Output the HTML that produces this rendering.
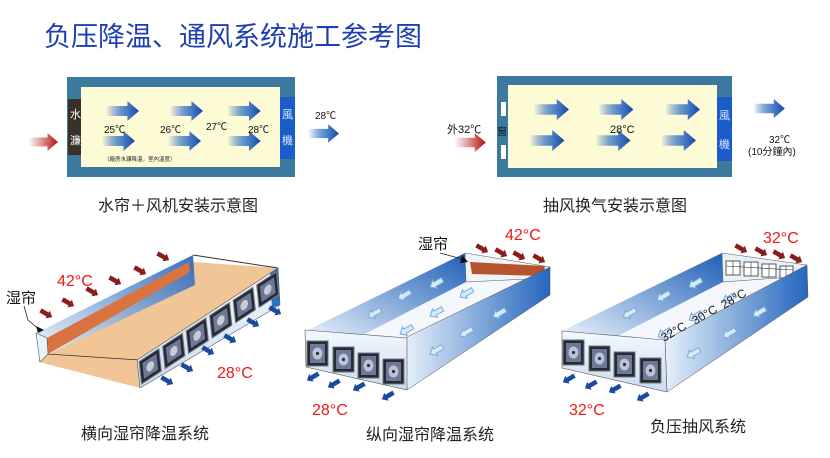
<!DOCTYPE html>
<html><head><meta charset="utf-8"><style>
html,body{margin:0;padding:0;background:#fff;}
svg{display:block;font-family:"Liberation Sans","Noto Sans CJK SC",sans-serif;}
</style></head><body>
<svg width="830" height="458" viewBox="0 0 830 458" xmlns="http://www.w3.org/2000/svg">
<defs>
<linearGradient id="gb" x1="0" x2="1" y1="0" y2="0"><stop offset="0" stop-color="#1f56b5" stop-opacity="0"/><stop offset="0.45" stop-color="#4a86cc" stop-opacity="0.85"/><stop offset="1" stop-color="#1446a8"/></linearGradient>
<linearGradient id="gr" x1="0" x2="1" y1="0" y2="0"><stop offset="0" stop-color="#c01818" stop-opacity="0"/><stop offset="1" stop-color="#b01010"/></linearGradient>
<symbol id="ab" viewBox="0 0 40 24"><path d="M0,6H26V0L40,12L26,24V18H0Z" fill="url(#gb)"/></symbol>
<symbol id="ar" viewBox="0 0 40 24"><path d="M0,6H26V0L40,12L26,24V18H0Z" fill="url(#gr)"/></symbol>
<symbol id="sr" viewBox="0 0 20 12" overflow="visible"><path d="M0,3H11V0L18,6L11,12V9H0Z" fill="#8b1c1c"/></symbol>
<symbol id="sb" viewBox="0 0 20 12" overflow="visible"><path d="M0,3H11V0L18,6L11,12V9H0Z" fill="#1a4aa0"/></symbol>
<symbol id="sl" viewBox="0 0 20 12" overflow="visible"><path d="M18,3H7V0L0,6L7,12V9H18Z" fill="#d6eaf8" stroke="#78a9d6" stroke-width="1.2"/></symbol>
<linearGradient id="wb" x1="0" x2="1" y1="1" y2="0"><stop offset="0" stop-color="#eef5fc"/><stop offset="1" stop-color="#1f5fb8"/></linearGradient>
<linearGradient id="wb2" x1="0" x2="1" y1="0" y2="0"><stop offset="0" stop-color="#e6f0fa"/><stop offset="1" stop-color="#2466bd"/></linearGradient>
<linearGradient id="ff" x1="0" x2="0" y1="0" y2="1"><stop offset="0" stop-color="#f4f8fd"/><stop offset="1" stop-color="#c8dcee"/></linearGradient>
<g id="fan"><rect x="0.08" y="0.1" width="0.84" height="0.8" fill="#262a36" stroke="#777" stroke-width="1" vector-effect="non-scaling-stroke"/><rect x="0.2" y="0.22" width="0.6" height="0.56" fill="#6d7894"/><circle cx="0.5" cy="0.5" r="0.16" fill="#c7ccd8"/></g>
<g id="fs"><rect x="0" y="0" width="21" height="25" fill="#262a36" stroke="#777" stroke-width="1"/><rect x="3" y="3" width="15" height="19" fill="#6d7894"/><ellipse cx="10.5" cy="12.5" rx="5" ry="6" fill="#b9c3da"/><circle cx="10.5" cy="12.5" r="1.6" fill="#333"/></g>
</defs>

<!-- Title -->
<text x="44" y="46" font-size="27" fill="#1f3fb0">负压降温、通风系统施工参考图</text>

<!-- Top-left diagram -->
<rect x="67" y="77" width="228" height="100" fill="#3b7a9e"/>
<rect x="81" y="87" width="199" height="80" fill="#fdfbd6"/>
<rect x="68" y="99" width="13" height="56" fill="#3a302a"/>
<text x="70" y="118" font-size="11" fill="#fff">水</text>
<text x="70" y="144" font-size="11" fill="#fff">濂</text>
<rect x="280" y="97" width="15" height="62" fill="#1a5cc8"/>
<text x="282" y="118" font-size="11" fill="#dde8ff">風</text>
<text x="282" y="144" font-size="11" fill="#dde8ff">機</text>
<use href="#ab" x="106" y="101" width="33" height="20"/>
<use href="#ab" x="170" y="101" width="33" height="20"/>
<use href="#ab" x="227" y="101" width="34" height="20"/>
<use href="#ab" x="102" y="131" width="33" height="20"/>
<use href="#ab" x="168" y="131" width="33" height="20"/>
<use href="#ab" x="227" y="131" width="34" height="20"/>
<g font-size="10" fill="#111"><text x="104" y="133">25℃</text><text x="160" y="133">26℃</text><text x="206" y="130">27℃</text><text x="248" y="133">28℃</text></g>
<text x="104" y="161" font-size="5.5" fill="#222">（廠房水濂降溫，室內溫度）</text>
<use href="#ar" x="26" y="133" width="34" height="18"/>
<use href="#ab" x="308" y="124" width="31" height="19"/>
<text x="315" y="119" font-size="10" fill="#111">28℃</text>
<text x="178" y="211" font-size="16" fill="#222" text-anchor="middle">水帘＋风机安装示意图</text>

<!-- Top-right diagram -->
<rect x="497" y="76" width="235" height="101" fill="#3b7a9e"/>
<rect x="508" y="85" width="209" height="83" fill="#fdfbd6"/>
<rect x="501" y="102" width="5" height="14" fill="#fff"/>
<rect x="501" y="145" width="5" height="14" fill="#fff"/>
<text x="497" y="135" font-size="10" fill="#111">窗</text>
<rect x="717" y="97" width="15" height="64" fill="#1a5cc8"/>
<text x="719" y="119" font-size="11" fill="#dde8ff">風</text>
<text x="719" y="148" font-size="11" fill="#dde8ff">機</text>
<use href="#ab" x="534" y="99" width="35" height="21"/>
<use href="#ab" x="598" y="99" width="36" height="21"/>
<use href="#ab" x="664" y="99" width="37" height="21"/>
<use href="#ab" x="529" y="130" width="36" height="21"/>
<use href="#ab" x="595" y="130" width="36" height="21"/>
<use href="#ab" x="660" y="130" width="37" height="21"/>
<text x="610" y="133" font-size="11" fill="#111">28°C</text>
<text x="447" y="133" font-size="11" fill="#111">外32℃</text>
<use href="#ar" x="452" y="133" width="36" height="19"/>
<use href="#ab" x="752" y="99" width="34" height="19"/>
<text x="769" y="143" font-size="10" fill="#111">32℃</text>
<text x="748" y="155" font-size="10" fill="#111">(10分鐘內)</text>
<text x="615" y="211" font-size="16" fill="#222" text-anchor="middle">抽风换气安装示意图</text>

<!-- Bottom diagram 1 -->
<polygon points="40,345 193,262 278,268 280,300 140,388 39,362" fill="#f2c597"/>
<polygon points="36,333 193,255 195,285 47,355" fill="url(#wb)" opacity="0.9"/>
<polygon points="47,338 189,262 190,272 48,354" fill="#d9733f"/>
<line x1="193" y1="255" x2="278" y2="268" stroke="#333" stroke-width="1"/>
<line x1="47" y1="354" x2="140" y2="360" stroke="#333" stroke-width="0.8"/>
<polygon points="36,333 47,338 48,354 40,362" fill="#eaf2fa" stroke="#555" stroke-width="0.6"/>
<polygon points="137,360 278,268 280,305 140,388" fill="url(#ff)" stroke="#555" stroke-width="0.6"/>
<polygon points="270,273 278,268 280,305 272,308" fill="#3070c0"/>
<g transform="matrix(23.5,-15.33,3,28,137,360)">
<use href="#fan" x="0"/><use href="#fan" x="1"/><use href="#fan" x="2"/><use href="#fan" x="3"/><use href="#fan" x="4"/><use href="#fan" x="5"/>
</g>
<g>
<use href="#sr" x="40" y="309" width="15" height="10" transform="rotate(30 47 313)"/>
<use href="#sr" x="62" y="298" width="15" height="10" transform="rotate(30 69 302)"/>
<use href="#sr" x="86" y="287" width="15" height="10" transform="rotate(30 93 291)"/>
<use href="#sr" x="109" y="276" width="15" height="10" transform="rotate(30 116 280)"/>
<use href="#sr" x="134" y="266" width="15" height="10" transform="rotate(30 141 270)"/>
<use href="#sr" x="157" y="252" width="15" height="10" transform="rotate(30 164 256)"/>
<use href="#sb" x="161" y="376" width="15" height="10" transform="rotate(30 168 380)"/>
<use href="#sb" x="181" y="363" width="15" height="10" transform="rotate(30 188 367)"/>
<use href="#sb" x="202" y="346" width="15" height="10" transform="rotate(30 209 350)"/>
<use href="#sb" x="224" y="334" width="15" height="10" transform="rotate(30 231 338)"/>
<use href="#sb" x="247" y="318" width="15" height="10" transform="rotate(30 254 322)"/>
<use href="#sb" x="269" y="306" width="15" height="10" transform="rotate(30 276 310)"/>
</g>
<text x="57" y="286" font-size="16" fill="#f01818">42°C</text>
<text x="217" y="378" font-size="16" fill="#f01818">28°C</text>
<text x="6" y="303" font-size="15" fill="#111">湿帘</text>
<polyline points="24,306 28,320 40,330" fill="none" stroke="#222" stroke-width="0.8"/>
<path d="M36,326 L44,330 L38,333Z" fill="#111"/>
<text x="145" y="439" font-size="16" fill="#222" text-anchor="middle">横向湿帘降温系统</text>

<!-- Bottom diagram 2 -->
<polygon points="306,331 465,253 550,267 405,340" fill="#f4f8fc"/>
<polygon points="306,331 465,253 466,282 353,340" fill="url(#wb)"/>
<polygon points="465,253 550,267 548,278 466,282" fill="#f0f4f8" stroke="#555" stroke-width="0.5"/>
<polygon points="470,262 545,266 543,276 472,274" fill="#b5532c"/>
<polygon points="405,338 550,267 550,295 407,390" fill="url(#wb2)" stroke="#555" stroke-width="0.5"/>
<polygon points="305,330 407,338 407,390 306,367" fill="url(#ff)" stroke="#555" stroke-width="0.6"/>
<use href="#fs" x="307" y="341"/><use href="#fs" x="333" y="347"/><use href="#fs" x="358" y="353"/><use href="#fs" x="383" y="359"/>
<g>
<use href="#sl" x="367" y="308" width="16" height="10" transform="rotate(-30 375 313)"/>
<use href="#sl" x="397" y="290" width="16" height="10" transform="rotate(-30 405 295)"/>
<use href="#sl" x="429" y="278" width="16" height="10" transform="rotate(-30 437 283)"/>
<use href="#sl" x="399" y="325" width="16" height="10" transform="rotate(-30 407 330)"/>
<use href="#sl" x="429" y="307" width="16" height="10" transform="rotate(-30 437 312)"/>
<use href="#sl" x="459" y="288" width="16" height="10" transform="rotate(-30 467 293)"/>
<use href="#sl" x="429" y="345" width="16" height="10" transform="rotate(-30 437 350)"/>
<use href="#sl" x="459" y="327" width="16" height="10" transform="rotate(-30 467 332)"/>
<use href="#sl" x="492" y="308" width="16" height="10" transform="rotate(-30 500 313)"/>
<use href="#sr" x="476" y="244" width="15" height="10" transform="rotate(30 483 248)"/>
<use href="#sr" x="495" y="248" width="15" height="10" transform="rotate(30 502 252)"/>
<use href="#sr" x="513" y="251" width="15" height="10" transform="rotate(30 520 255)"/>
<use href="#sr" x="533" y="254" width="15" height="10" transform="rotate(30 540 258)"/>
<use href="#sb" x="306" y="374" width="15" height="10" transform="rotate(150 313 378)"/>
<use href="#sb" x="327" y="381" width="15" height="10" transform="rotate(150 334 385)"/>
<use href="#sb" x="352" y="384" width="15" height="10" transform="rotate(150 359 388)"/>
<use href="#sb" x="381" y="393" width="15" height="10" transform="rotate(150 388 397)"/>
</g>
<text x="418" y="249" font-size="15" fill="#111">湿帘</text>
<line x1="440" y1="253" x2="462" y2="259" stroke="#222" stroke-width="0.8"/>
<path d="M462,255 L468,262 L460,263Z" fill="#111"/>
<text x="505" y="240" font-size="16" fill="#f01818">42°C</text>
<text x="312" y="415" font-size="16" fill="#f01818">28°C</text>
<text x="430" y="440" font-size="16" fill="#222" text-anchor="middle">纵向湿帘降温系统</text>

<!-- Bottom diagram 3 -->
<polygon points="562,331 722,253 807,265 665,340" fill="#f4f8fc"/>
<polygon points="562,331 722,253 723,282 610,340" fill="url(#wb)"/>
<polygon points="722,253 807,265 805,276 723,282" fill="#e8f0f8" stroke="#555" stroke-width="0.5"/>
<g fill="#fff" stroke="#333" stroke-width="0.8">
<rect x="726" y="261" width="14" height="14"/><rect x="744" y="262" width="14" height="14"/><rect x="762" y="264" width="14" height="13"/><rect x="780" y="266" width="13" height="12"/>
</g>
<g stroke="#333" stroke-width="0.6"><line x1="733" y1="261" x2="733" y2="275"/><line x1="751" y1="262" x2="751" y2="276"/><line x1="769" y1="264" x2="769" y2="277"/><line x1="786" y1="266" x2="786" y2="278"/><line x1="726" y1="266" x2="793" y2="270"/></g>
<polygon points="665,340 807,265 808,297 667,392" fill="url(#wb2)" stroke="#555" stroke-width="0.5"/>
<polygon points="562,331 665,340 667,392 562,368" fill="url(#ff)" stroke="#555" stroke-width="0.6"/>
<use href="#fs" x="563" y="340"/><use href="#fs" x="589" y="346"/><use href="#fs" x="614" y="352"/><use href="#fs" x="640" y="358"/>
<g>
<use href="#sl" x="622" y="308" width="16" height="10" transform="rotate(-30 630 313)"/>
<use href="#sl" x="656" y="291" width="16" height="10" transform="rotate(-30 664 296)"/>
<use href="#sl" x="688" y="278" width="16" height="10" transform="rotate(-30 696 283)"/>
<use href="#sl" x="657" y="328" width="16" height="10" transform="rotate(-30 665 333)"/>
<use href="#sl" x="688" y="311" width="16" height="10" transform="rotate(-30 696 316)"/>
<use href="#sl" x="722" y="293" width="16" height="10" transform="rotate(-30 730 298)"/>
<use href="#sl" x="686" y="348" width="16" height="10" transform="rotate(-30 694 353)"/>
<use href="#sl" x="722" y="328" width="16" height="10" transform="rotate(-30 730 333)"/>
<use href="#sl" x="752" y="307" width="16" height="10" transform="rotate(-30 760 312)"/>
<use href="#sr" x="735" y="244" width="15" height="10" transform="rotate(30 742 248)"/>
<use href="#sr" x="755" y="247" width="15" height="10" transform="rotate(30 762 251)"/>
<use href="#sr" x="773" y="250" width="15" height="10" transform="rotate(30 780 254)"/>
<use href="#sr" x="790" y="254" width="15" height="10" transform="rotate(30 797 258)"/>
<use href="#sb" x="562" y="376" width="15" height="10" transform="rotate(150 569 380)"/>
<use href="#sb" x="584" y="382" width="15" height="10" transform="rotate(150 591 386)"/>
<use href="#sb" x="608" y="386" width="15" height="10" transform="rotate(150 615 390)"/>
<use href="#sb" x="636" y="394" width="15" height="10" transform="rotate(150 643 398)"/>
</g>
<g font-size="12" fill="#222">
<text x="664" y="342" transform="rotate(-30 664 342)">32°C</text>
<text x="695" y="325" transform="rotate(-30 695 325)">30°C</text>
<text x="724" y="309" transform="rotate(-30 724 309)">28°C</text>
</g>
<text x="763" y="243" font-size="16" fill="#f01818">32°C</text>
<text x="569" y="415" font-size="16" fill="#f01818">32°C</text>
<text x="698" y="432" font-size="16" fill="#222" text-anchor="middle">负压抽风系统</text>
</svg>
</body></html>
